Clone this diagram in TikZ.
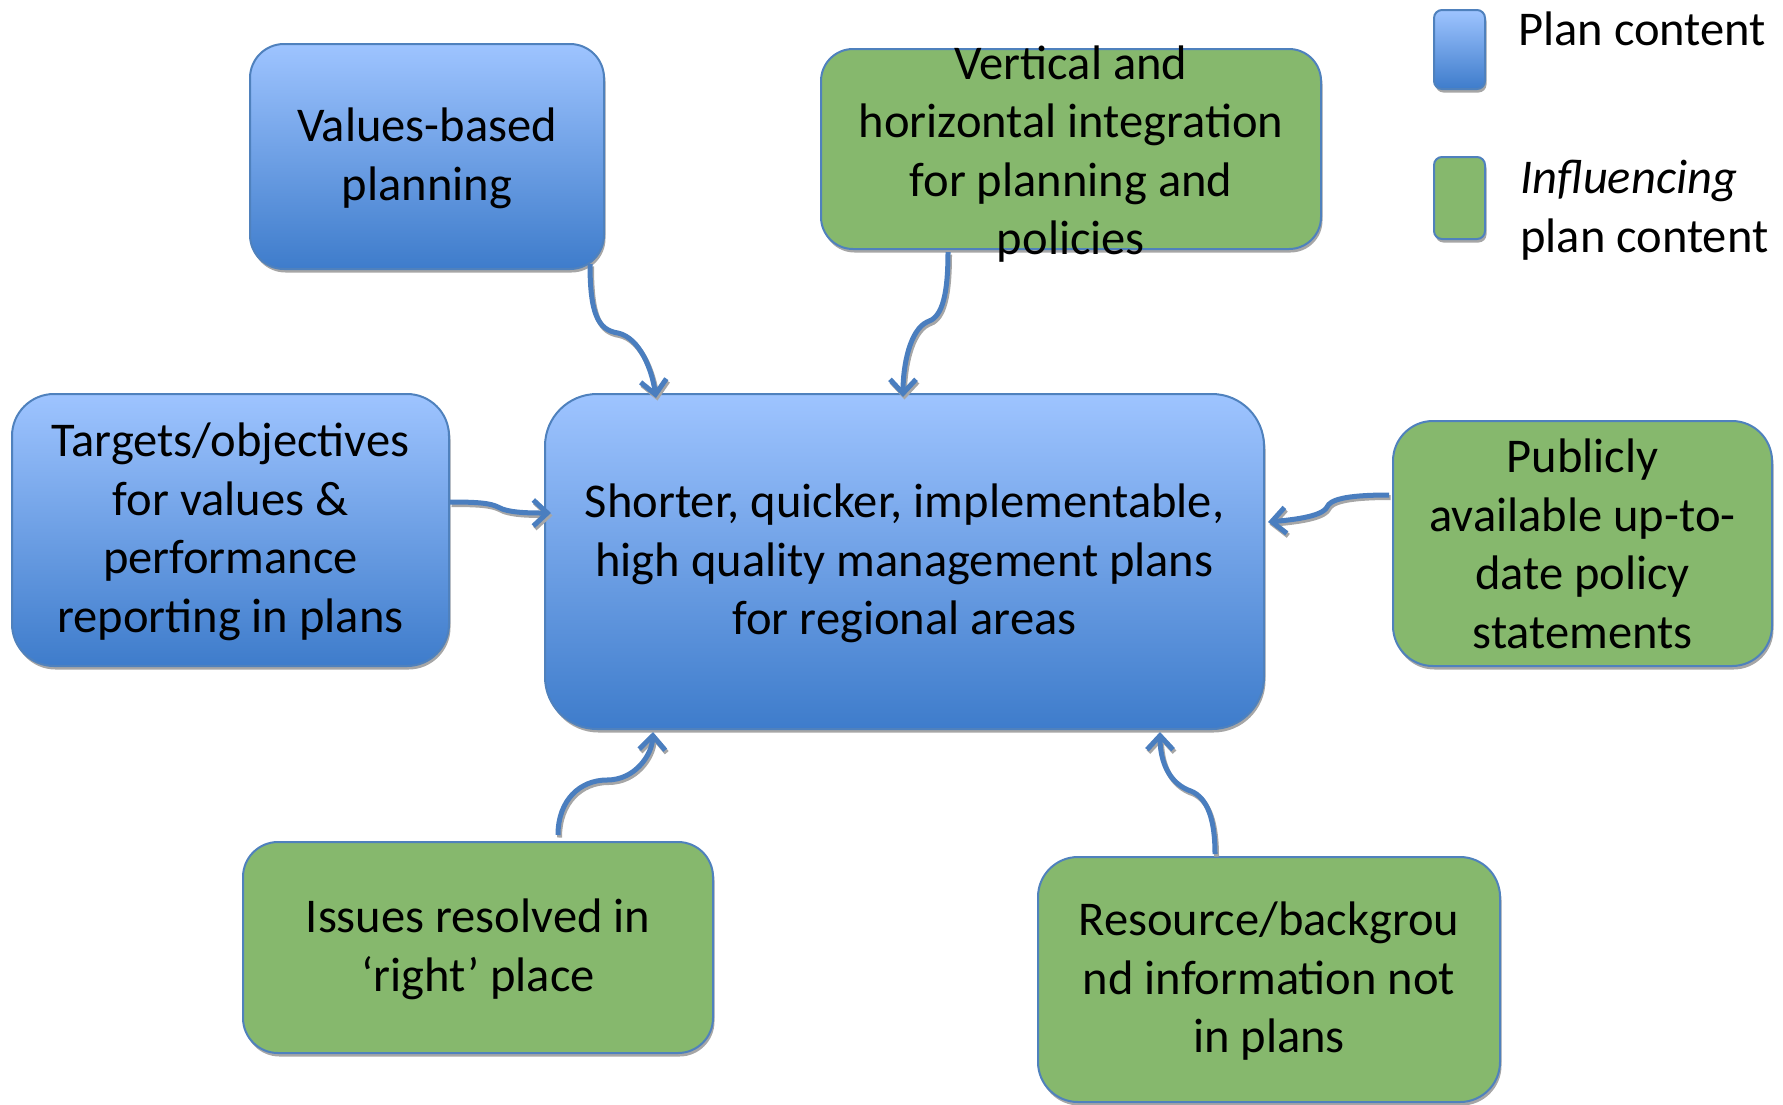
\documentclass[tikz,border=0pt]{standalone}
\usepackage{fontspec}
\setmainfont{Carlito}
\usetikzlibrary{shadows,arrows.meta,calc}
\definecolor{bTop}{HTML}{9EC4FF}
\definecolor{bBot}{HTML}{3E7CCB}
\definecolor{gFill}{HTML}{86B86D}
\definecolor{edge}{HTML}{4F81BD}
\definecolor{arr}{HTML}{4A7EBF}
\tikzset{
  boxbase/.style={draw=edge, line width=2pt, anchor=north west, inner sep=0pt,
    drop shadow={shadow xshift=1.5pt, shadow yshift=-3.5pt, fill=black!35, opacity=1}},
  bluebox/.style={boxbase, top color=bTop, bottom color=bBot},
  greenbox/.style={boxbase, fill=gFill},
  txt/.style={align=center, font=\fontsize{48.5}{58.5}\selectfont, inner sep=0pt, yshift=-2pt},
  legtxt/.style={align=left, anchor=west, font=\fontsize{48.5}{58.5}\selectfont, inner sep=0pt},
  conn/.style={draw=arr, line width=5pt, -{Straight Barb[length=14pt,width=26pt]},
    preaction={draw=black!35, line width=5pt, -{Straight Barb[length=14pt,width=26pt]}, transform canvas={xshift=1.5pt,yshift=-2.5pt}}}
}
\begin{document}
\begin{tikzpicture}[x=1pt,y=-1pt]
\useasboundingbox (0,0) rectangle (1783,1104);
% boxes
\node[bluebox, rounded corners=34pt, minimum width=354pt, minimum height=225pt] (vb) at (249,43) {};
\node[greenbox, rounded corners=32pt, minimum width=500pt, minimum height=200pt] (vi) at (820,48) {};
\node[bluebox, rounded corners=42pt, minimum width=437pt, minimum height=272pt] (tg) at (11,393) {};
\node[bluebox, rounded corners=52pt, minimum width=719pt, minimum height=335pt] (ce) at (544,393) {};
\node[greenbox, rounded corners=40pt, minimum width=379pt, minimum height=245pt] (pu) at (1392,420) {};
\node[greenbox, rounded corners=35pt, minimum width=470pt, minimum height=211pt] (is) at (242,841) {};
\node[greenbox, rounded corners=40pt, minimum width=462pt, minimum height=245pt] (re) at (1037,856) {};
% legend boxes
\node[bluebox, rounded corners=8pt, minimum width=51pt, minimum height=79pt] (lb) at (1433,9) {};
\node[greenbox, rounded corners=8pt, minimum width=51pt, minimum height=82pt] (lg) at (1433,156) {};
% texts
\node[txt] (vbt) at (vb.center) {Values-based\\planning};
\node[txt] (vit) at ($(vi.center)+(0,3)$) {Vertical and\\horizontal integration\\for planning and\\policies};
\node[txt] (tgt) at (tg.center) {Targets/objectives\\for values \&\\performance\\reporting in plans};
\node[txt] (cet) at (ce.center) {Shorter, quicker, implementable,\\high quality management plans\\for regional areas};
\node[txt, yshift=1.5pt] (put) at (pu.center) {Publicly\\available up-to-\\date policy\\statements};
\node[txt] (ist) at (is.center) {Issues resolved in\\‘right’ place};
\node[txt] (ret) at (re.center) {Resource/backgrou\\nd information not\\in plans};
\node[legtxt] (lbt) at (1518,29) {Plan content};
\node[legtxt] (lgt) at (1520,210) {\textit{Influencing}\\plan content};
% connectors
\draw[conn] ($(vb.south east)+(-15,-6)$) .. controls +(0,50) and (598,330) .. (618,333)
  .. controls (640,338) and (652,370) .. ($(ce.north west)+(112,5)$);
\draw[conn] ($(vi.south west)+(128,2)$) .. controls +(0,50) and (940,318) .. (927,322)
  .. controls (910,330) and (903,365) .. ($(ce.north west)+(359,4)$);
\draw[conn] ($(tg.north east)+(0,109)$) .. controls +(27,0) and (490,503) .. (498,507)
  .. controls (508,513) and (530,513) .. ($(ce.north west)+(7,120)$);
\draw[conn] ($(pu.north west)+(-3,75)$) .. controls +(-45,0) and (1330,500) .. (1327,507)
  .. controls (1322,517) and (1290,520) .. ($(ce.north east)+(3,129)$);
\draw[conn] ($(is.north west)+(316,-6)$) .. controls +(0,-35) and (580,780) .. (607,780)
  .. controls (635,780) and (652,755) .. ($(ce.south west)+(109,2)$);
\draw[conn] ($(re.north west)+(178,-2)$) .. controls +(0,-40) and (1205,795) .. (1188,790)
  .. controls (1165,780) and (1160,755) .. ($(ce.south west)+(616,2)$);
\end{tikzpicture}
\end{document}
